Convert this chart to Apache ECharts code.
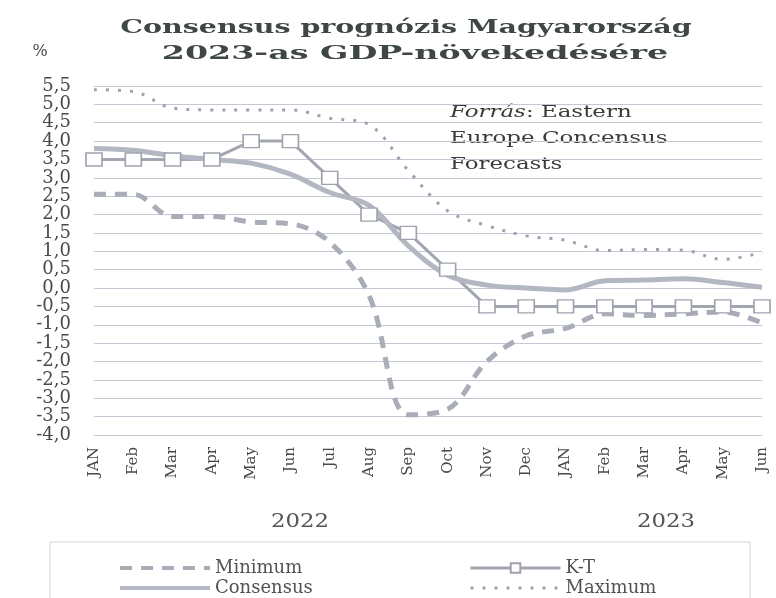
<!DOCTYPE html>
<html>
<head>
<meta charset="utf-8">
<script src="https://cdn.jsdelivr.net/npm/echarts@6/dist/echarts.min.js"></script>
<style>
  html, body { margin: 0; padding: 0; background: #fff; }
  #container { width: 776px; height: 598px; }
</style>
</head>
<body>
<div id="container"></div>
<script>
// havi tengely: 2022 jan - 2023 jun
var months = ['JAN','Feb','Mar','Apr','May','Jun','Jul','Aug','Sep','Oct','Nov','Dec',
              'JAN','Feb','Mar','Apr','May','Jun'];
var years = ['2022', '2023'];

var minimum   = [2.55, 2.55, 1.95, 1.95, 1.8, 1.75, 1.25, -0.2, -3.45, -3.3, -2.0, -1.3, -1.1, -0.7, -0.75, -0.7, -0.65, -0.95];
var kt        = [3.5, 3.5, 3.5, 3.5, 4.0, 4.0, 3.0, 2.0, 1.5, 0.5, -0.5, -0.5, -0.5, -0.5, -0.5, -0.5, -0.5, -0.5];
var consensus = [3.8, 3.75, 3.6, 3.5, 3.4, 3.1, 2.6, 2.25, 1.15, 0.35, 0.08, 0.0, -0.05, 0.2, 0.22, 0.25, 0.15, 0.02];
var maximum   = [5.4, 5.35, 4.9, 4.85, 4.85, 4.85, 4.62, 4.45, 3.2, 2.1, 1.7, 1.42, 1.3, 1.02, 1.05, 1.03, 0.78, 0.97];

var serif = '"DejaVu Serif", "Liberation Serif", serif';
var txtColor = '#474a4c';
var legendText = { fontFamily: serif, fontSize: 18, color: '#505356' };
var noMarker = { opacity: 0 };   // csak a vonal latszodjon a jelmagyarazatban

var dom = document.getElementById('container');
var myChart = echarts.init(dom);

var option = {
    backgroundColor: '#fff',
    animation: false,
    grid: { left: 94, right: 14, top: 86, bottom: 163 },
    xAxis: {
        type: 'category',
        data: months,
        boundaryGap: false,
        axisLine: { show: false },
        axisTick: { show: false },
        axisLabel: {
            rotate: 90,
            margin: 12,
            interval: 0,
            color: txtColor,
            fontFamily: serif,
            fontSize: 15
        }
    },
    yAxis: {
        type: 'value',
        min: -4,
        max: 5.5,
        interval: 0.5,
        axisLine: { show: false },
        axisTick: { show: false },
        axisLabel: {
            margin: 23,
            showMinLabel: true,
            showMaxLabel: true,
            color: txtColor,
            fontFamily: serif,
            fontSize: 18,
            lineHeight: 14,
            formatter: function (v) { return v.toFixed(1).replace('.', ','); }
        },
        splitLine: {
            showMinLine: true,
            showMaxLine: true,
            lineStyle: { color: '#c4c8d4', width: 1 }
        }
    },
    legend: [
        {
            data: [
                { name: 'Minimum', itemStyle: noMarker, lineStyle: { width: 4 } },
                { name: 'Consensus', itemStyle: noMarker, lineStyle: { width: 4 } }
            ],
            orient: 'vertical',
            left: 113, top: 554, height: 60,
            itemWidth: 90, itemHeight: 12, itemGap: 2,
            textStyle: legendText
        },
        {
            data: [
                { name: 'K-T', lineStyle: { width: 3 } },
                { name: 'Maximum', itemStyle: noMarker, lineStyle: { width: 3 } }
            ],
            orient: 'vertical',
            left: 464, top: 554, height: 60,
            itemWidth: 90, itemHeight: 12, itemGap: 2,
            textStyle: legendText
        }
    ],
    graphic: [
        {   // legend keret
            type: 'rect', z: -1,
            shape: { x: 50, y: 542, width: 700, height: 80 },
            style: { fill: 'none', stroke: '#d4d6da', lineWidth: 1 }
        },
        {
            type: 'text', x: 406, y: 28, scaleX: 1.5,
            style: { text: 'Consensus prognózis Magyarország', font: 'bold 19px ' + serif,
                     fill: '#3e4744', align: 'center', verticalAlign: 'middle' }
        },
        {
            type: 'text', x: 415, y: 54, scaleX: 1.75,
            style: { text: '2023-as GDP-növekedésére', font: 'bold 19px ' + serif,
                     fill: '#3e4744', align: 'center', verticalAlign: 'middle' }
        },
        {
            type: 'text', x: 40, y: 52,
            style: { text: '%', font: '16px ' + serif, fill: txtColor, align: 'center', verticalAlign: 'middle' }
        },
        {
            type: 'text', x: 450, y: 100, scaleX: 1.35,
            style: {
                text: '{i|Forrás}: Eastern\nEurope Concensus\nForecasts',
                font: '17px ' + serif, fill: '#3a3a3a', lineHeight: 26,
                rich: { i: { fontStyle: 'italic', fontFamily: serif, fontSize: 17, fill: '#3a3a3a', lineHeight: 26 } }
            }
        },
        {
            type: 'text', x: 300, y: 522, scaleX: 1.2,
            style: { text: years[0], font: '19px ' + serif, fill: '#555', align: 'center', verticalAlign: 'middle' }
        },
        {
            type: 'text', x: 666, y: 522, scaleX: 1.2,
            style: { text: years[1], font: '19px ' + serif, fill: '#555', align: 'center', verticalAlign: 'middle' }
        }
    ],
    series: [
        {
            name: 'Minimum',
            type: 'line',
            data: minimum,
            smooth: 0.35,
            symbol: 'none',
            color: '#a9adb8',
            lineStyle: { color: '#a9adb8', width: 5, type: [12, 9] }
        },
        {
            name: 'K-T',
            type: 'line',
            data: kt,
            smooth: false,
            symbol: 'rect',
            symbolSize: [16, 13],
            color: '#a2a6b0',
            itemStyle: { color: '#fff', borderColor: '#9ea3ae', borderWidth: 1.5 },
            lineStyle: { color: '#a2a6b0', width: 3 },
            z: 3
        },
        {
            name: 'Consensus',
            type: 'line',
            data: consensus,
            smooth: 0.35,
            symbol: 'none',
            color: '#b3b7c2',
            lineStyle: { color: '#b3b7c2', width: 5 }
        },
        {
            name: 'Maximum',
            type: 'line',
            data: maximum,
            smooth: 0.35,
            symbol: 'none',
            color: '#9ea2ab',
            lineStyle: { color: '#9ea2ab', width: 3, type: [3, 9] }
        }
    ]
};

myChart.setOption(option);
</script>
</body>
</html>
